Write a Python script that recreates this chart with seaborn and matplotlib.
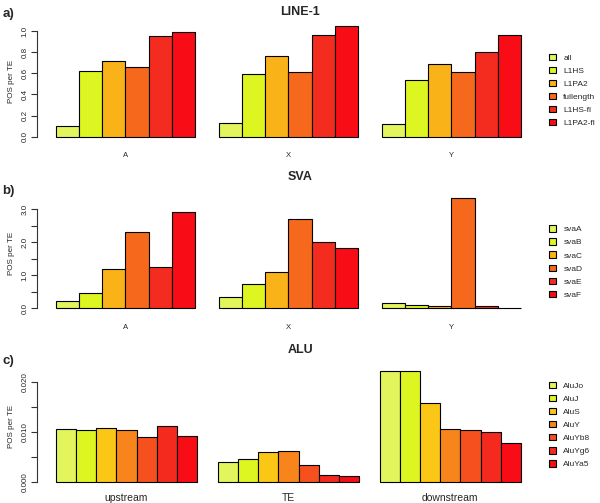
import numpy as np
import pandas as pd
import matplotlib
matplotlib.use("Agg")
import matplotlib.pyplot as plt
import seaborn as sns

sns.set_style("white")
plt.rcParams["font.family"] = ["Liberation Sans", "DejaVu Sans"]

# panel a: LINE-1
line_groups = ["A", "X", "Y"]
line_types = ["all", "L1HS", "L1PA2", "fullength", "L1HS-fl", "L1PA2-fl"]
line_A = [0.10, 0.62, 0.72, 0.66, 0.955, 0.99]
line_X = [0.127, 0.59, 0.76, 0.61, 0.965, 1.05]
line_Y = [0.117, 0.54, 0.69, 0.61, 0.80, 0.965]

# panel b: SVA
sva_groups = ["A", "X", "Y"]
sva_types = ["svaA", "svaB", "svaC", "svaD", "svaE", "svaF"]
sva_A = [0.23, 0.46, 1.20, 2.30, 1.25, 2.91]
sva_X = [0.34, 0.72, 1.11, 2.69, 2.01, 1.83]
sva_Y = [0.17, 0.11, 0.08, 3.34, 0.08, 0.0]

# panel c: ALU
alu_groups = ["upstream", "TE", "downstream"]
alu_types = ["AluJo", "AluJ", "AluS", "AluY", "AluYb8", "AluYg6", "AluYa5"]
alu_up = [0.0107, 0.0105, 0.0108, 0.0104, 0.0089, 0.0113, 0.0091]
alu_te = [0.0039, 0.0045, 0.0059, 0.0061, 0.0034, 0.0013, 0.0011]
alu_down = [0.0223, 0.0223, 0.0158, 0.0107, 0.0105, 0.0101, 0.0078]

pal6 = ["#E2F55C", "#DDF520", "#F9B318", "#F6681B", "#F42C1F", "#F80C15"]
pal7 = ["#E2F55C", "#DDF520", "#FAC716", "#F7851B", "#F5501E", "#F52A1E", "#F80C15"]


def long_table(groups, types, series):
    rows = []
    for g, vals in zip(groups, series):
        for t, v in zip(types, vals):
            rows.append({"group": g, "type": t, "value": v})
    return pd.DataFrame(rows)


def panel(ax, df, types, pal, ylim, yticks, ylabels, xsize, xpad, legy):
    n = len(types)
    sns.barplot(data=df, x="group", y="value", hue="type", hue_order=types,
                palette=pal, width=n / (n + 1), gap=0, saturation=1,
                edgecolor="black", linewidth=0.8, ax=ax)
    # R barplot style x range (4% padding around the bars)
    lo = 1.0
    hi = 3 * (n + 1)
    pad = 0.04 * (hi - lo)
    c0 = 1 + n / 2
    ax.set_xlim((lo - pad - c0) / (n + 1), (hi + pad - c0) / (n + 1))
    ax.set_ylim(*ylim)
    ax.set_yticks(yticks)
    ax.set_yticklabels(ylabels)
    for s in ["top", "right", "bottom"]:
        ax.spines[s].set_visible(False)
    ax.spines["left"].set_bounds(yticks[0], yticks[-1])
    ax.spines["left"].set_color("#333333")
    ax.spines["left"].set_linewidth(0.8)
    ax.tick_params(axis="y", which="both", direction="out", length=4, width=0.8,
                   color="#333333", labelsize=5.8, rotation=90, pad=2, left=True)
    for lab in ax.get_yticklabels():
        lab.set_va("center")
    ax.tick_params(axis="x", length=0, labelsize=xsize, pad=xpad)
    ax.set_xlabel("")
    ax.set_ylabel("POS per TE", fontsize=5.8, labelpad=5)
    leg = ax.legend(loc="center left", bbox_to_anchor=(1.012, legy), frameon=False,
                    fontsize=6, handlelength=0.8, handleheight=0.8,
                    labelspacing=0.6, handletextpad=0.9, borderaxespad=0)
    for h in leg.legend_handles:
        h.set_edgecolor("black")
        h.set_linewidth(0.8)


fig = plt.figure(figsize=(6.0, 5.03), dpi=100)
ax_a = fig.add_axes([0.0617, 0.717, 0.838, 0.2406])
ax_b = fig.add_axes([0.0617, 0.376, 0.838, 0.2398])
ax_c = fig.add_axes([0.0617, 0.0312, 0.838, 0.2404])

df_a = long_table(line_groups, line_types, [line_A, line_X, line_Y])
panel(ax_a, df_a, line_types, pal6, (-0.053, 1.092),
      [0, 0.2, 0.4, 0.6, 0.8, 1.0], ["0.0", "0.2", "0.4", "0.6", "0.8", "1.0"], 5.5, 7, 0.43)

df_b = long_table(sva_groups, sva_types, [sva_A, sva_X, sva_Y])
panel(ax_b, df_b, sva_types, pal6, (-0.168, 3.475),
      [0, 0.5, 1.0, 1.5, 2.0, 2.5, 3.0], ["0.0", "", "1.0", "", "2.0", "", "3.0"], 5.5, 7, 0.43)

df_c = long_table(alu_groups, alu_types, [alu_up, alu_te, alu_down])
panel(ax_c, df_c, alu_types, pal7, (-0.00112, 0.0232),
      [0, 0.005, 0.010, 0.015, 0.020], ["0.000", "", "0.010", "", "0.020"], 7.5, 4, 0.515)

for y, t in [(12, "LINE-1"), (177, "SVA"), (350, "ALU")]:
    fig.text(0.5, 1 - y / 503, t, ha="center", va="center", fontsize=9, fontweight="bold")
for y, t in [(14, "a)"), (191, "b)"), (361, "c)")]:
    fig.text(0.004, 1 - y / 503, t, ha="left", va="center", fontsize=9.5, fontweight="bold")

fig.savefig("out.png", dpi=100)
